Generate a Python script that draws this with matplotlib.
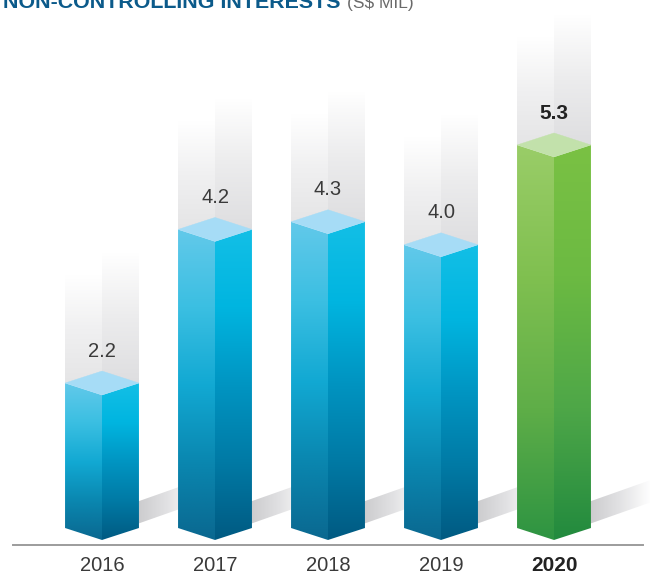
import numpy as np
import matplotlib.pyplot as plt
from matplotlib.patches import Polygon
from matplotlib.colors import LinearSegmentedColormap

# data
years = ['2016', '2017', '2018', '2019', '2020']
values = [2.2, 4.2, 4.3, 4.0, 5.3]
highlight = '2020'

# colours, listed bottom -> top
blue_left = ['#0a6890', '#0a87b0', '#12a9d3', '#3bbfe2', '#62c9ea']
blue_right = ['#005a82', '#007aa5', '#0095c2', '#00b5e0', '#13bfe6']
blue_top = '#a6dcf6'
green_left = ['#2e9442', '#5fae48', '#80c050', '#9acd68']
green_right = ['#228a3e', '#4ea748', '#6cba42', '#7ac144']
green_top = '#c2e1ab'

hw = 0.327      # half width of a bar (x units)
dd = 0.156      # half height of the top diamond (y units)
base = 0.3125   # level of the bottom corners


def grad_poly(ax, verts, colors, horizontal=False, z=1):
    poly = Polygon(verts, closed=True, facecolor='none', edgecolor='none')
    ax.add_patch(poly)
    xs = [p[0] for p in verts]
    ys = [p[1] for p in verts]
    cmap = LinearSegmentedColormap.from_list('g', colors)
    if horizontal:
        arr = np.linspace(0, 1, 256).reshape(1, -1)
    else:
        arr = np.linspace(0, 1, 256).reshape(-1, 1)
    im = ax.imshow(arr, cmap=cmap, extent=[min(xs), max(xs), min(ys), max(ys)],
                   origin='lower', aspect='auto', zorder=z, interpolation='bilinear')
    im.set_clip_path(poly)


fig = plt.figure(figsize=(6.53, 5.77), dpi=100)
ax = fig.add_axes([0, 0, 1, 1])
ax.set_axis_off()

font = ['Liberation Sans Narrow', 'Liberation Sans', 'DejaVu Sans']

for i, (yr, v) in enumerate(zip(years, values)):
    L, C, R = i - hw, i, i + hw
    hl = yr == highlight
    left_c = green_left if hl else blue_left
    right_c = green_right if hl else blue_right
    top_c = green_top if hl else blue_top

    # light grey column behind the bar, fading upward
    grad_poly(ax, [(L, v), (C, v), (C, v + dd + 1.25), (L, v + dd + 1.25)],
              ['#e5e5e6', '#f0f0f1', '#ffffff'], z=1)
    grad_poly(ax, [(C, v), (R, v), (R, v + dd + 1.54), (C, v + dd + 1.54)],
              ['#dedee0', '#ececed', '#ffffff'], z=1)

    # shadow on the floor, cast to the upper right
    grad_poly(ax, [(R - 0.02, base + 0.05), (R + 0.52, base + 0.33),
                   (R + 0.52, base + 0.62), (R - 0.02, base + 0.34)],
              ['#cbcbcd', '#e2e2e4', '#ffffff'], horizontal=True, z=2)

    # faces
    grad_poly(ax, [(L, v), (C, v - dd), (C, base - dd), (L, base)], left_c, z=3)
    grad_poly(ax, [(C, v - dd), (R, v), (R, base), (C, base - dd)], right_c, z=3)
    ax.add_patch(Polygon([(L, v), (C, v + dd), (R, v), (C, v - dd)], closed=True,
                         facecolor=top_c, edgecolor=top_c, lw=0.3, zorder=4))

    ax.text(C, v + dd + 0.26, f'{v:.1f}', ha='center', va='center',
            fontsize=15 if hl else 14.5, family=font,
            fontweight='bold' if hl else 'normal', color='#222222' if hl else '#3a3a3a', zorder=5)
    ax.text(C, -0.17, yr, ha='center', va='center', fontsize=15 if hl else 14.5,
            family=font, fontweight='bold' if hl else 'normal',
            color='#222222' if hl else '#3a3a3a', zorder=5)

# baseline
ax.plot([-0.788, 4.788], [0.091, 0.091], color='#9c9c9c', lw=1.4, zorder=5)

ax.set_xlim(-102 / 113, (653 - 102) / 113)
ax.set_ylim(-25 / 76.8, 552 / 76.8)

# title, cut off at the top edge like the source
fig.text(3 / 653, 1 - 8 / 577, 'NON-CONTROLLING INTERESTS', ha='left', va='baseline',
         fontsize=15.4, fontweight='bold', color='#0b5a8a',
         family=['Liberation Sans', 'DejaVu Sans'])
fig.text(347 / 653, 1 - 8 / 577, '(S$ MIL)', ha='left', va='baseline',
         fontsize=12.5, color='#6a6a6a', family=font)

plt.savefig('out.png', dpi=100)
